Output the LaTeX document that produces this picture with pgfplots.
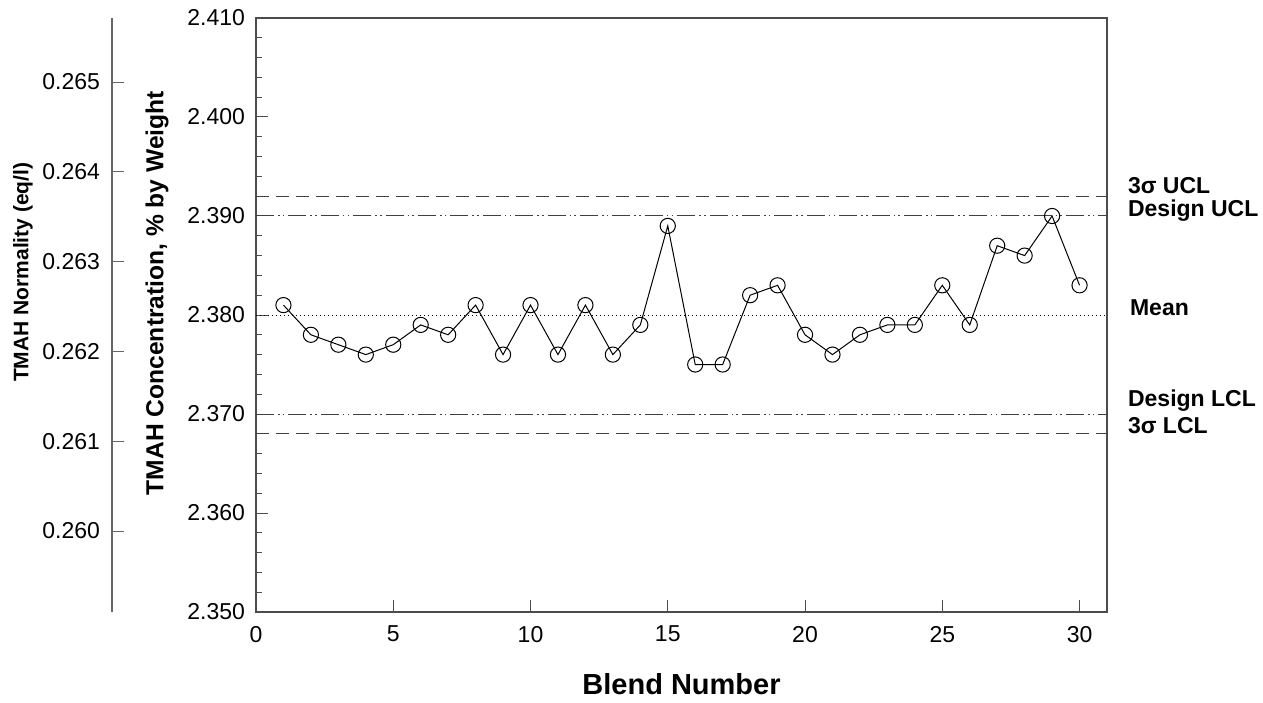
\documentclass[border=0pt]{standalone}
\usepackage{fontspec}
\setmainfont{Liberation Sans}
\usepackage{pgfplots}
\pgfplotsset{compat=1.18}

\pgfplotstableread{
x y
1 2.381
2 2.378
3 2.377
4 2.376
5 2.377
6 2.379
7 2.378
8 2.381
9 2.376
10 2.381
11 2.376
12 2.381
13 2.376
14 2.379
15 2.389
16 2.375
17 2.375
18 2.382
19 2.383
20 2.378
21 2.376
22 2.378
23 2.379
24 2.379
25 2.383
26 2.379
27 2.387
28 2.386
29 2.390
30 2.383
}\blends

\tikzset{
  sigmaline/.style={black!75, line width=0.5pt, dash pattern=on 6.5pt off 3.5pt},
  designline/.style={black!75, line width=0.5pt, dash pattern=on 9pt off 2pt on 0.8pt off 1.6pt on 0.8pt off 2pt},
  meanline/.style={black, line width=0.5pt, dash pattern=on 0.6pt off 1.4pt},
}

\begin{document}
\begin{tikzpicture}
\useasboundingbox (-128pt,-45pt) rectangle (503.5pt,306pt);

% secondary scale on the far left
\begin{axis}[
  at={(-72pt,0pt)}, anchor=south west,
  scale only axis, width=20pt, height=297pt,
  hide x axis, axis y line*=left,
  axis line style={black!60, line width=0.6pt},
  xmin=0, xmax=1,
  ymin=0.259098, ymax=0.265713,
  ytick={0.260,0.261,0.262,0.263,0.264,0.265},
  tick align=inside, major tick length=6pt,
  tick style={black!60, line width=0.5pt},
  yticklabel style={font=\fontsize{11.5}{13}\selectfont, xshift=-2.5pt, /pgf/number format/.cd, fixed, fixed zerofill, precision=3, assume math mode=true},
  ylabel={\bfseries TMAH Normality (eq/l)},
  ylabel style={font=\fontsize{10.5}{12}\selectfont, at={(axis description cs:-2.225,0.572)}, anchor=center},
]
\addplot[draw=none] coordinates {(0,0.262)};
\end{axis}

\begin{axis}[
  at={(0pt,0pt)}, anchor=south west,
  scale only axis, width=425.5pt, height=297pt,
  xmin=0, xmax=31, ymin=2.35, ymax=2.41,
  xtick={0,5,10,15,20,25,30},
  ytick={2.35,2.36,2.37,2.38,2.39,2.40,2.41},
  minor y tick num=4,
  xtick pos=bottom, ytick pos=left,
  tick align=inside, major tick length=6pt, minor tick length=3pt,
  axis line style={black!70, line width=0.6pt},
  tick style={black!70, line width=0.5pt},
  ticklabel style={font=\fontsize{11.5}{13}\selectfont},
  xticklabel style={yshift=-3.5pt, /pgf/number format/assume math mode=true},
  yticklabel style={xshift=-2pt, /pgf/number format/.cd, fixed, fixed zerofill, precision=3, assume math mode=true},
  xlabel={\bfseries Blend Number},
  xlabel style={font=\fontsize{14.5}{16}\selectfont, at={(axis description cs:0.5,-0.121)}, anchor=center},
  ylabel={\bfseries TMAH Concentration, \% by Weight},
  ylabel style={font=\fontsize{12.3}{14}\selectfont, at={(axis description cs:-0.1163,0.537)}, anchor=center},
  clip=false,
]
\addplot[sigmaline] coordinates {(0,2.392) (31,2.392)};
\addplot[sigmaline] coordinates {(0,2.368) (31,2.368)};
\addplot[designline] coordinates {(0,2.390) (31,2.390)};
\addplot[designline] coordinates {(0,2.370) (31,2.370)};
\addplot[meanline] coordinates {(0,2.380) (31,2.380)};

\addplot[black, line width=0.5pt, mark=o, mark size=3.8pt,
  mark options={fill=white, line width=0.5pt}] table[x=x, y=y] {\blends};

\begin{scope}[font=\fontsize{11.5}{13}\selectfont\bfseries]
\node[anchor=west] at ([xshift=7pt]axis cs:31,2.3931) {3σ UCL};
\node[anchor=west] at ([xshift=7pt]axis cs:31,2.3905) {Design UCL};
\node[anchor=west] at ([xshift=8pt]axis cs:31,2.3807) {Mean};
\node[anchor=west] at ([xshift=7pt]axis cs:31,2.3714) {Design LCL};
\node[anchor=west] at ([xshift=7pt]axis cs:31,2.3688) {3σ LCL};
\end{scope}
\end{axis}
\end{tikzpicture}
\end{document}
